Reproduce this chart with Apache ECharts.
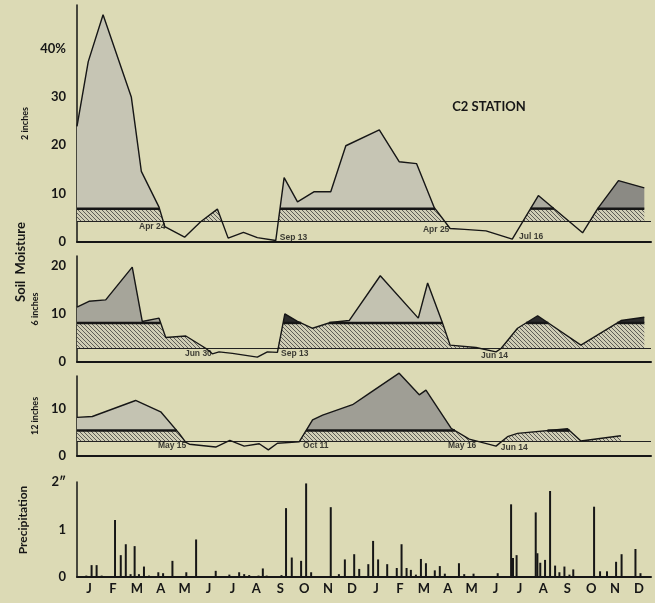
<!DOCTYPE html>
<html><head><meta charset="utf-8">
<script src="https://cdn.jsdelivr.net/npm/echarts@6/dist/echarts.min.js"></script>
<style>html,body{margin:0;padding:0;background:#dcdab5}#c{width:655px;height:603px}</style>
</head><body><div id="c"></div>
<script>
// ---------- DATA ----------
const monthLabels = ['J','F','M','A','M','J','J','A','S','O','N','D','J','F','M','A','M','J','J','A','S','O','N','D'];

// Soil moisture (%) at 2 inches; x = months since Jan 1 of first year
const month2in = [0, 0.47, 1.09, 2.27, 2.69, 3.43, 3.67, 4.5, 5.17, 5.87, 6.32, 6.96, 7.54, 8.31, 8.66, 9.22, 9.92, 10.61, 11.24, 12.64, 13.47, 14.2, 14.94, 15.6, 16.2, 17.1, 18.2, 19.29, 21.14, 21.77, 22.64, 23.72];
const moist2in = [23.9, 37.3, 47.0, 30.0, 14.6, 7.2, 3.2, 1.0, 4.2, 6.8, 0.8, 2.0, 0.9, 0.3, 13.3, 8.3, 10.4, 10.4, 19.9, 23.2, 16.6, 16.2, 7.1, 2.8, 2.6, 2.3, 0.6, 9.6, 1.9, 6.9, 12.7, 11.2];
const wilt2in = 4.2, cap2in = 6.9;

// 6 inches
const month6in = [0, 0.5, 1.2, 2.31, 2.73, 3.43, 3.71, 4.55, 5.38, 5.66, 5.94, 6.5, 7.54, 7.96, 8.38, 8.69, 9.2, 9.85, 10.6, 11.38, 12.68, 14.27, 14.66, 15.26, 15.6, 16.68, 17.52, 17.73, 18.42, 19.26, 21.07, 22.75, 23.72];
const moist6in = [11.4, 12.6, 12.9, 19.7, 8.4, 9.1, 5.1, 5.4, 2.85, 1.7, 2.1, 1.8, 1.0, 2.1, 2.0, 10.0, 8.5, 7.0, 8.2, 8.6, 17.9, 9.1, 16.4, 8.4, 3.5, 3.0, 2.1, 2.8, 7.0, 9.6, 3.5, 8.6, 9.3];
const wilt6in = 2.8, cap6in = 8.1;

// 12 inches
const month12in = [0, 0.64, 2.45, 3.5, 4.27, 4.55, 4.7, 5.8, 6.39, 6.99, 7.62, 8.0, 8.38, 9.29, 9.85, 10.27, 11.52, 12.22, 13.47, 14.31, 14.59, 15.64, 16.4, 17.52, 18.0, 18.42, 20.51, 21.07, 22.74];
const moist12in = [8.2, 8.4, 11.8, 9.4, 4.8, 2.9, 2.5, 1.9, 3.3, 2.1, 2.6, 1.3, 2.7, 3.0, 7.7, 8.7, 10.9, 13.3, 17.6, 13.0, 14.0, 5.9, 3.6, 2.1, 4.1, 4.8, 5.8, 3.2, 4.3];
const wilt12in = 3.2, cap12in = 5.4;

// Date notes (text, month, value) per panel
const notes2inText = ['Apr 24', 'Sep 13', 'Apr 25', 'Jul 16'];
const notes2inMonth = [2.55, 8.44, 14.42, 18.44];
const notes2inValue = [3.1, 0.8, 2.5, 1.1];
const notes6inText = ['Jun 30', 'Sep 13', 'Jun 14'];
const notes6inMonth = [4.47, 8.49, 16.85];
const notes6inValue = [1.7, 1.7, 1.25];
const notes12inText = ['May 15', 'Oct 11', 'May 16', 'Jun 14'];
const notes12inMonth = [3.34, 9.41, 15.47, 17.68];
const notes12inValue = [2.1, 2.1, 2.3, 1.7];

// Precipitation (inches)
const precipMonth = [0.39, 0.61, 0.82, 1.03, 1.59, 1.83, 2.04, 2.24, 2.41, 2.59, 2.8, 3.01, 3.4, 3.6, 3.99, 4.57, 4.98, 5.8, 6.18, 6.37, 6.78, 6.99, 7.2, 7.59, 7.77, 7.93, 8.55, 8.74, 8.98, 9.37, 9.58, 9.79, 10.61, 10.95, 11.2, 11.59, 11.8, 12.18, 12.38, 12.59, 12.97, 13.37, 13.57, 13.78, 13.96, 14.17, 14.38, 14.59, 14.96, 15.17, 15.38, 15.97, 16.19, 16.58, 17.59, 18.15, 18.23, 18.38, 19.18, 19.25, 19.37, 19.57, 19.78, 19.99, 20.17, 20.38, 20.59, 20.75, 21.62, 21.87, 22.16, 22.54, 22.77, 23.35, 23.56];
const precipInches = [0.03, 0.25, 0.25, 0.03, 1.2, 0.46, 0.69, 0.06, 0.65, 0.06, 0.22, 0.03, 0.1, 0.08, 0.34, 0.1, 0.79, 0.13, 0.02, 0.05, 0.1, 0.06, 0.04, 0.03, 0.18, 0.03, 0.04, 1.45, 0.41, 0.34, 1.97, 0.1, 1.47, 0.06, 0.37, 0.48, 0.17, 0.27, 0.76, 0.37, 0.27, 0.19, 0.69, 0.19, 0.15, 0.05, 0.38, 0.29, 0.14, 0.23, 0.07, 0.29, 0.06, 0.07, 0.08, 1.53, 0.4, 0.46, 1.36, 0.5, 0.3, 0.36, 1.81, 0.24, 0.1, 0.22, 0.05, 0.16, 1.48, 0.12, 0.12, 0.32, 0.48, 0.59, 0.08];

// ---------- STYLE / BUILD ----------
const INK = '#161616';
const FONT = 'Lato, "DejaVu Sans", sans-serif';

function hatch(bg, fg) {
  const c = document.createElement('canvas'); c.width = 4; c.height = 4;
  const g = c.getContext('2d');
  g.fillStyle = bg; g.fillRect(0, 0, 4, 4);
  g.strokeStyle = fg; g.lineWidth = 1;
  g.beginPath();
  for (const o of [-4, 0, 4]) { g.moveTo(o, 0); g.lineTo(o + 4, 4); }
  g.stroke();
  return { image: c, repeat: 'repeat' };
}

function augment(ms, vs, ths) {
  const pts = [];
  for (let i = 0; i < ms.length; i++) {
    pts.push([ms[i], vs[i]]);
    if (i < ms.length - 1) {
      const cr = [];
      ths.forEach(t => {
        const a = vs[i] - t, b = vs[i + 1] - t;
        if (a * b < 0) { const f = a / (a - b); cr.push([ms[i] + f * (ms[i + 1] - ms[i]), t]); }
      });
      cr.sort((p, q) => p[0] - q[0]);
      pts.push(...cr);
    }
  }
  return pts;
}

function panel(gi, ms, vs, L, U, shades, hatchFill, nText, nMonth, nValue) {
  const pts = augment(ms, vs, [L, U]);
  const out = [];
  const base = { xAxisIndex: gi, yAxisIndex: gi, symbol: 'none', silent: true, animation: false, clip: false };
  out.push(Object.assign({}, base, {
    type: 'line', z: 2,
    data: pts.map(p => [p[0], Math.max(L, Math.min(p[1], U))]),
    lineStyle: { width: 0, opacity: 0 },
    areaStyle: { origin: L, color: hatchFill, opacity: 1 }
  }));
  const runs = []; let cur = null;
  pts.forEach(p => {
    if (p[1] >= U - 1e-6) { if (!cur) { cur = []; runs.push(cur); } cur.push(p); }
    else cur = null;
  });
  runs.filter(r => r.length > 1).forEach((r, k) => {
    out.push(Object.assign({}, base, {
      type: 'line', z: 3, data: r,
      lineStyle: { width: 0, opacity: 0 },
      areaStyle: { origin: U, color: shades[Math.min(k, shades.length - 1)], opacity: 1 }
    }));
    out.push(Object.assign({}, base, {
      type: 'line', z: 4, data: [[r[0][0], U], [r[r.length - 1][0], U]],
      lineStyle: { color: INK, width: 2.5 }
    }));
  });
  out.push(Object.assign({}, base, {
    type: 'line', z: 5, data: ms.map((m, i) => [m, vs[i]]),
    lineStyle: { color: INK, width: 1.4 },
    markLine: { silent: true, symbol: 'none', animation: false, label: { show: false },
      lineStyle: { color: '#222', width: 1, type: 'solid' }, data: [{ yAxis: L }] }
  }));
  out.push({
    type: 'scatter', xAxisIndex: gi, yAxisIndex: gi, z: 6, symbolSize: 2, silent: true, animation: false,
    itemStyle: { color: 'rgba(0,0,0,0)' },
    data: nText.map((t, i) => ({ name: t, value: [nMonth[i], nValue[i]] })),
    label: { show: true, position: 'right', distance: 0, formatter: '{b}',
      fontSize: 8.5, fontWeight: 'bold', fontFamily: '"Liberation Sans", sans-serif', color: '#111' },
    labelLayout: { hideOverlap: false }
  });
  return out;
}

const grids = [
  { left: 77, right: 4, top: 5, height: 237 },
  { left: 77, right: 4, top: 256, height: 106 },
  { left: 77, right: 4, top: 376, height: 80 },
  { left: 77, right: 4, top: 482, height: 95 }
];
const ymax = [49, 22, 17, 2];
const yint = [10, 10, 10, 1];
const ynames = ['2 inches', '6 inches', '12 inches', ''];

const xAxes = grids.map((g, i) => ({
  type: 'value', gridIndex: i, min: 0, max: 24,
  axisLabel: { show: false }, axisTick: { show: false }, splitLine: { show: false },
  axisLine: { show: i < 3, onZero: false, lineStyle: { color: INK, width: 2 } }
}));
xAxes.push({
  type: 'category', gridIndex: 3, data: monthLabels, boundaryGap: true, position: 'bottom',
  axisTick: { show: false }, splitLine: { show: false },
  axisLine: { show: true, lineStyle: { color: INK, width: 2 } },
  axisLabel: { interval: 0, margin: 5, fontSize: 13, fontWeight: 'bold', fontFamily: FONT, color: INK }
});

const yAxes = grids.map((g, i) => ({
  type: 'value', gridIndex: i, min: 0, max: ymax[i], interval: yint[i],
  name: ynames[i], nameLocation: 'middle', nameRotate: 90, nameGap: 37,
  nameTextStyle: { fontSize: 9, fontFamily: FONT, color: INK, fontWeight: 'bold' },
  axisTick: { show: false }, splitLine: { show: false },
  axisLine: { show: true, lineStyle: { color: INK, width: 1.5 } },
  axisLabel: {
    margin: 11, fontSize: 13, fontWeight: 'bold', fontFamily: FONT, color: INK, showMaxLabel: true,
    formatter: v => {
      if (i === 3) return v === 2 ? '2\u2033' : (Number.isInteger(v) ? String(v) : '');
      if (v % 10 !== 0) return '';
      return i === 0 && v === 40 ? '40%' : String(v);
    }
  }
}));

const hatchFill = hatch('#cfcdb5', '#5f5e57');
let series = [];
series = series.concat(panel(0, month2in, moist2in, wilt2in, cap2in,
  ['#c6c5b4', '#c6c5b4', '#acab9f', '#8b8a84'], hatchFill, notes2inText, notes2inMonth, notes2inValue));
series = series.concat(panel(1, month6in, moist6in, wilt6in, cap6in,
  ['#a6a59a', '#2b2b2b', '#c3c2b1', '#2b2b2b', '#2b2b2b'], hatchFill, notes6inText, notes6inMonth, notes6inValue));
series = series.concat(panel(2, month12in, moist12in, wilt12in, cap12in,
  ['#c4c3b2', '#9f9e95', '#2b2b2b'], hatchFill, notes12inText, notes12inMonth, notes12inValue));
series.push({
  type: 'bar', xAxisIndex: 3, yAxisIndex: 3, barWidth: 2, silent: true, animation: false,
  itemStyle: { color: INK },
  data: precipMonth.map((m, i) => [m, precipInches[i]])
});

const chart = echarts.init(document.getElementById('c'), null, { renderer: 'canvas' });
chart.setOption({
  backgroundColor: '#dcdab5',
  animation: false,
  grid: grids,
  xAxis: xAxes,
  yAxis: yAxes,
  series: series,
  graphic: [
    { type: 'text', x: 489, y: 107, style: { text: 'C2 STATION', font: 'bold 13px ' + FONT, fill: INK, textAlign: 'center', textVerticalAlign: 'middle' } },
    { type: 'text', x: 21, y: 262, rotation: Math.PI / 2, style: { text: 'Soil  Moisture', font: 'bold 13px ' + FONT, fill: INK, textAlign: 'center', textVerticalAlign: 'middle' } },
    { type: 'text', x: 23, y: 520, rotation: Math.PI / 2, style: { text: 'Precipitation', font: 'bold 12px ' + FONT, fill: INK, textAlign: 'center', textVerticalAlign: 'middle' } }
  ]
});
</script>
</body></html>
